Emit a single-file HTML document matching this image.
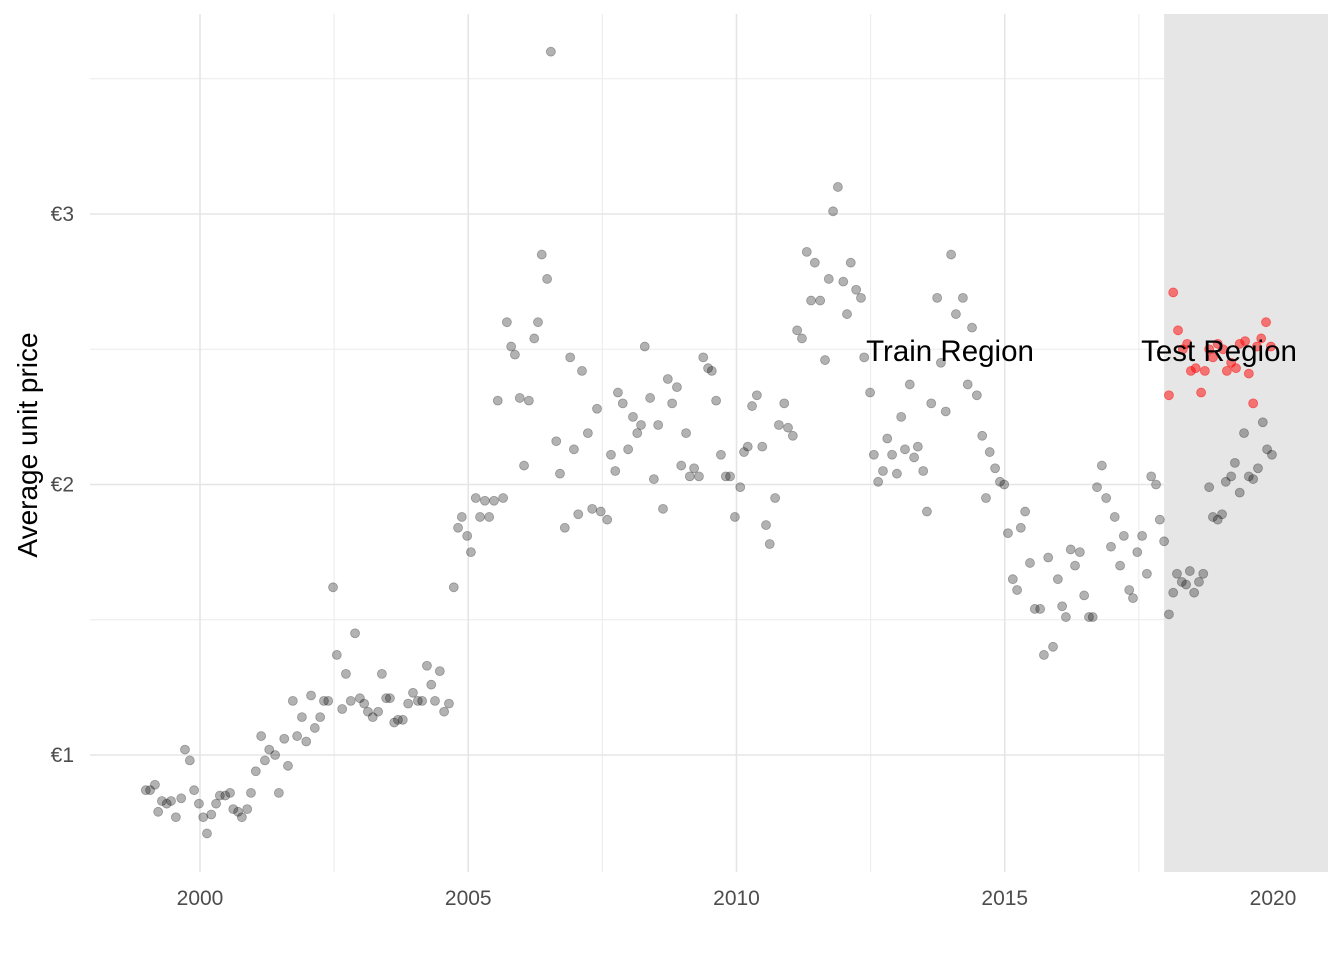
<!DOCTYPE html>
<html><head><meta charset="utf-8"><style>
html,body{margin:0;padding:0;background:#fff;}
svg{display:block;font-family:"Liberation Sans",Arial,sans-serif;}
</style></head><body>
<svg id="chart" width="1344" height="960">
<g id="grid"></g>
<rect id="testbg" fill="#e6e6e6"></rect>
<g id="pts"></g>
<g id="labels"></g>
<text x="950" y="361" font-size="29.5" text-anchor="middle" fill="#000">Train Region</text>
<text x="1219" y="361" font-size="29.5" text-anchor="middle" fill="#000">Test Region</text>
<text transform="translate(37,445) rotate(-90)" font-size="28" text-anchor="middle" fill="#000">Average unit price</text>
</svg>
<script>
const trainDates=[1998.99,1999.07,1999.16,1999.22,1999.29,1999.38,1999.46,1999.55,1999.65,1999.72,1999.81,1999.89,1999.98,2000.06,2000.13,2000.21,2000.30,2000.37,2000.47,2000.56,2000.62,2000.71,2000.78,2000.88,2000.95,2001.04,2001.14,2001.21,2001.29,2001.40,2001.47,2001.57,2001.64,2001.73,2001.81,2001.90,2001.98,2002.07,2002.14,2002.24,2002.31,2002.39,2002.48,2002.55,2002.65,2002.72,2002.81,2002.89,2002.98,2003.06,2003.13,2003.22,2003.32,2003.39,2003.47,2003.54,2003.62,2003.69,2003.78,2003.88,2003.97,2004.06,2004.14,2004.23,2004.31,2004.38,2004.47,2004.55,2004.64,2004.73,2004.81,2004.88,2004.98,2005.05,2005.14,2005.22,2005.31,2005.39,2005.48,2005.55,2005.65,2005.72,2005.80,2005.87,2005.96,2006.04,2006.13,2006.23,2006.30,2006.37,2006.47,2006.54,2006.64,2006.71,2006.80,2006.90,2006.97,2007.05,2007.12,2007.23,2007.31,2007.40,2007.47,2007.59,2007.66,2007.74,2007.79,2007.88,2007.98,2008.07,2008.15,2008.22,2008.29,2008.39,2008.46,2008.54,2008.63,2008.72,2008.80,2008.89,2008.97,2009.06,2009.13,2009.21,2009.30,2009.38,2009.47,2009.54,2009.62,2009.71,2009.80,2009.88,2009.97,2010.07,2010.14,2010.21,2010.29,2010.38,2010.48,2010.55,2010.62,2010.72,2010.79,2010.89,2010.96,2011.05,2011.13,2011.22,2011.31,2011.39,2011.46,2011.56,2011.65,2011.72,2011.80,2011.89,2011.99,2012.06,2012.13,2012.23,2012.32,2012.38,2012.49,2012.56,2012.64,2012.73,2012.81,2012.90,2012.99,2013.07,2013.14,2013.23,2013.31,2013.38,2013.48,2013.55,2013.63,2013.74,2013.81,2013.90,2014.00,2014.09,2014.22,2014.31,2014.39,2014.48,2014.58,2014.65,2014.72,2014.82,2014.91,2014.99,2015.06,2015.15,2015.23,2015.30,2015.38,2015.47,2015.56,2015.66,2015.73,2015.81,2015.90,2015.99,2016.07,2016.14,2016.23,2016.31,2016.40,2016.48,2016.57,2016.64,2016.72,2016.81,2016.89,2016.98,2017.05,2017.15,2017.22,2017.32,2017.39,2017.47,2017.56,2017.65,2017.73,2017.82,2017.89,2017.97,2018.06,2018.14,2018.21,2018.30,2018.38,2018.45,2018.53,2018.62,2018.70,2018.81,2018.88,2018.97,2019.05,2019.12,2019.22,2019.29,2019.38,2019.46,2019.55,2019.63,2019.72,2019.81,2019.89,2019.98];
const trainPrices=[0.87,0.87,0.89,0.79,0.83,0.82,0.83,0.77,0.84,1.02,0.98,0.87,0.82,0.77,0.71,0.78,0.82,0.85,0.85,0.86,0.80,0.79,0.77,0.80,0.86,0.94,1.07,0.98,1.02,1.00,0.86,1.06,0.96,1.20,1.07,1.14,1.05,1.22,1.10,1.14,1.20,1.20,1.62,1.37,1.17,1.30,1.20,1.45,1.21,1.19,1.16,1.14,1.16,1.30,1.21,1.21,1.12,1.13,1.13,1.19,1.23,1.20,1.20,1.33,1.26,1.20,1.31,1.16,1.19,1.62,1.84,1.88,1.81,1.75,1.95,1.88,1.94,1.88,1.94,2.31,1.95,2.60,2.51,2.48,2.32,2.07,2.31,2.54,2.60,2.85,2.76,3.60,2.16,2.04,1.84,2.47,2.13,1.89,2.42,2.19,1.91,2.28,1.90,1.87,2.11,2.05,2.34,2.30,2.13,2.25,2.19,2.22,2.51,2.32,2.02,2.22,1.91,2.39,2.30,2.36,2.07,2.19,2.03,2.06,2.03,2.47,2.43,2.42,2.31,2.11,2.03,2.03,1.88,1.99,2.12,2.14,2.29,2.33,2.14,1.85,1.78,1.95,2.22,2.30,2.21,2.18,2.57,2.54,2.86,2.68,2.82,2.68,2.46,2.76,3.01,3.10,2.75,2.63,2.82,2.72,2.69,2.47,2.34,2.11,2.01,2.05,2.17,2.11,2.04,2.25,2.13,2.37,2.10,2.14,2.05,1.90,2.30,2.69,2.45,2.27,2.85,2.63,2.69,2.37,2.58,2.33,2.18,1.95,2.12,2.06,2.01,2.00,1.82,1.65,1.61,1.84,1.90,1.71,1.54,1.54,1.37,1.73,1.40,1.65,1.55,1.51,1.76,1.70,1.75,1.59,1.51,1.51,1.99,2.07,1.95,1.77,1.88,1.70,1.81,1.61,1.58,1.75,1.81,1.67,2.03,2.00,1.87,1.79,1.52,1.60,1.67,1.64,1.63,1.68,1.60,1.64,1.67,1.99,1.88,1.87,1.89,2.01,2.03,2.08,1.97,2.19,2.03,2.02,2.06,2.23,2.13,2.11];
const testDates=[2018.06,2018.14,2018.23,2018.32,2018.40,2018.47,2018.56,2018.66,2018.73,2018.81,2018.88,2018.97,2019.07,2019.14,2019.22,2019.31,2019.38,2019.48,2019.55,2019.63,2019.70,2019.78,2019.87,2019.96];
const testPrices=[2.33,2.71,2.57,2.50,2.52,2.42,2.43,2.34,2.42,2.50,2.47,2.52,2.50,2.42,2.45,2.43,2.52,2.53,2.41,2.30,2.51,2.54,2.60,2.51];
const xTicks=[2000,2005,2010,2015,2020];
const xMinor=[1997.5,2002.5,2007.5,2012.5,2017.5];
const yTicks=[1,2,3];
const yTickLabels=["€1","€2","€3"];
const yMinor=[1.5,2.5,3.5];
const testStart=2017.97;

const L=90,R=1328,T=14,B=872;
const sx=d=>200+(d-2000)*53.65;
const sy=v=>755-(v-1)*270.5;
const NS="http://www.w3.org/2000/svg";
function mk(tag,attrs,parent){const e=document.createElementNS(NS,tag);for(const k in attrs)e.setAttribute(k,attrs[k]);parent.appendChild(e);return e;}
const grid=document.getElementById('grid');
yMinor.forEach(v=>{const y=sy(v);if(y<T||y>B)return;const l=mk('line',{x1:L,x2:R,y1:y,y2:y,stroke:'#ebebeb','stroke-width':1},grid);

});
xMinor.forEach(d=>{const x=sx(d);if(x<L||x>R)return;const l=mk('line',{x1:x,x2:x,y1:T,y2:B,stroke:'#ebebeb','stroke-width':1},grid);

});
yTicks.forEach(v=>{const y=sy(v);const l=mk('line',{x1:L,x2:R,y1:y,y2:y,stroke:'#e5e5e5','stroke-width':1.6},grid);

});
xTicks.forEach(d=>{const x=sx(d);const l=mk('line',{x1:x,x2:x,y1:T,y2:B,stroke:'#e5e5e5','stroke-width':1.6},grid);

});
const bg=document.getElementById('testbg');
bg.setAttribute('x',sx(testStart));bg.setAttribute('y',T);bg.setAttribute('width',R-sx(testStart));bg.setAttribute('height',B-T);
const pts=document.getElementById('pts');
trainDates.forEach((d,i)=>{const c=mk('circle',{cx:sx(d),cy:sy(trainPrices[i]),r:4.5,fill:'rgba(0,0,0,0.3)',stroke:'rgba(0,0,0,0.3)','stroke-width':0.8},pts);

});
testDates.forEach((d,i)=>{const c=mk('circle',{cx:sx(d),cy:sy(testPrices[i]),r:4.5,fill:'rgba(255,0,0,0.5)',stroke:'rgba(255,0,0,0.5)','stroke-width':0.8},pts);

});
const lab=document.getElementById('labels');
xTicks.forEach(d=>{const t=mk('text',{x:sx(d),y:905,'font-size':21,'text-anchor':'middle',fill:'#4d4d4d'},lab);t.textContent=d;

});
yTicks.forEach((v,i)=>{const t=mk('text',{x:74,y:sy(v)+7,'font-size':21,'text-anchor':'end',fill:'#4d4d4d'},lab);t.textContent=yTickLabels[i];

});
</script>
</body></html>
